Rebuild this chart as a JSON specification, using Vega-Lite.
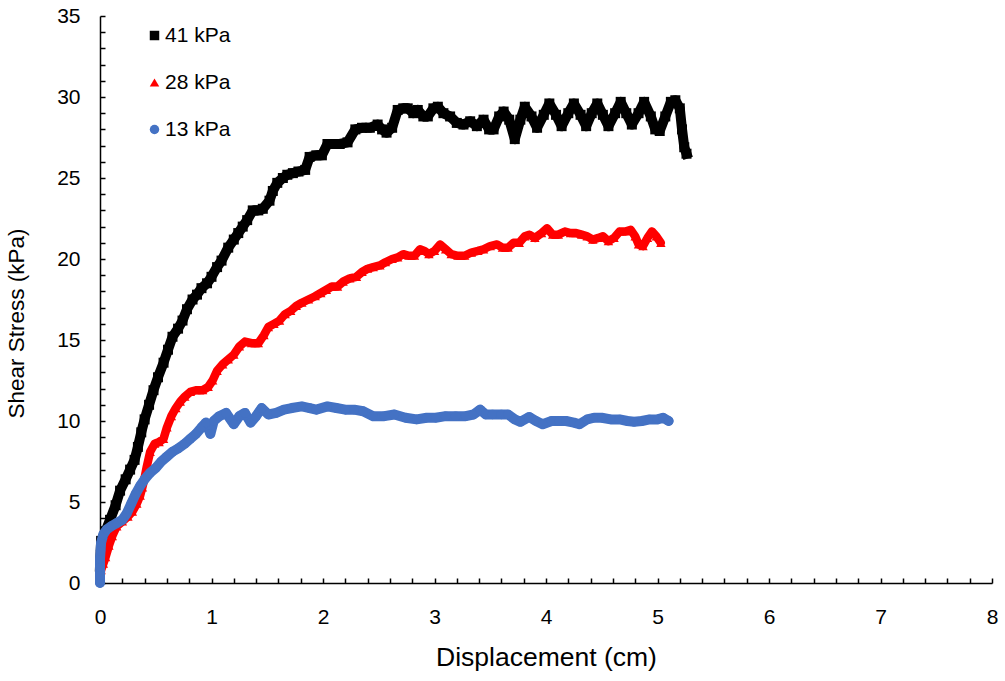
{
  "$schema": "https://vega.github.io/schema/vega-lite/v6.json",
  "width": 892,
  "height": 567,
  "autosize": {"type": "none"},
  "padding": {"left": 100, "top": 16, "right": 13, "bottom": 98},
  "background": "white",
  "config": {
    "view": {"stroke": null},
    "font": "Liberation Sans",
    "axis": {
      "grid": false,
      "domainColor": "#000000",
      "domainWidth": 1.5,
      "tickColor": "#000000",
      "tickWidth": 1.5,
      "tickSize": -5,
      "labelColor": "#000000",
      "titleColor": "#000000",
      "labelFont": "Liberation Sans",
      "titleFont": "Liberation Sans",
      "labelFontSize": 21,
      "titleFontWeight": "normal",
      "labelOverlap": false,
      "labelFlush": false
    },
    "legend": {
      "labelFont": "Liberation Sans",
      "labelFontSize": 21,
      "labelColor": "#000000"
    }
  },
  "data": {
    "values": [
      {"series":"41 kPa","displacement":0.00,"stress":1.0},
      {"series":"41 kPa","displacement":0.01,"stress":2.6},
      {"series":"41 kPa","displacement":0.05,"stress":3.2},
      {"series":"41 kPa","displacement":0.09,"stress":3.9},
      {"series":"41 kPa","displacement":0.14,"stress":4.8},
      {"series":"41 kPa","displacement":0.18,"stress":5.7},
      {"series":"41 kPa","displacement":0.23,"stress":6.4},
      {"series":"41 kPa","displacement":0.27,"stress":7.0},
      {"series":"41 kPa","displacement":0.31,"stress":7.6},
      {"series":"41 kPa","displacement":0.34,"stress":8.4},
      {"series":"41 kPa","displacement":0.37,"stress":9.3},
      {"series":"41 kPa","displacement":0.40,"stress":10.1},
      {"series":"41 kPa","displacement":0.44,"stress":11.0},
      {"series":"41 kPa","displacement":0.48,"stress":11.9},
      {"series":"41 kPa","displacement":0.52,"stress":12.7},
      {"series":"41 kPa","displacement":0.57,"stress":13.6},
      {"series":"41 kPa","displacement":0.61,"stress":14.4},
      {"series":"41 kPa","displacement":0.65,"stress":15.2},
      {"series":"41 kPa","displacement":0.70,"stress":15.7},
      {"series":"41 kPa","displacement":0.74,"stress":16.2},
      {"series":"41 kPa","displacement":0.78,"stress":16.9},
      {"series":"41 kPa","displacement":0.83,"stress":17.5},
      {"series":"41 kPa","displacement":0.87,"stress":17.8},
      {"series":"41 kPa","displacement":0.91,"stress":18.2},
      {"series":"41 kPa","displacement":0.96,"stress":18.5},
      {"series":"41 kPa","displacement":1.00,"stress":18.9},
      {"series":"41 kPa","displacement":1.05,"stress":19.5},
      {"series":"41 kPa","displacement":1.09,"stress":19.9},
      {"series":"41 kPa","displacement":1.15,"stress":20.7},
      {"series":"41 kPa","displacement":1.20,"stress":21.2},
      {"series":"41 kPa","displacement":1.24,"stress":21.6},
      {"series":"41 kPa","displacement":1.28,"stress":22.0},
      {"series":"41 kPa","displacement":1.32,"stress":22.4},
      {"series":"41 kPa","displacement":1.37,"stress":23.0},
      {"series":"41 kPa","displacement":1.42,"stress":23.0},
      {"series":"41 kPa","displacement":1.46,"stress":23.1},
      {"series":"41 kPa","displacement":1.52,"stress":23.6},
      {"series":"41 kPa","displacement":1.55,"stress":24.2},
      {"series":"41 kPa","displacement":1.59,"stress":24.7},
      {"series":"41 kPa","displacement":1.64,"stress":25.0},
      {"series":"41 kPa","displacement":1.68,"stress":25.2},
      {"series":"41 kPa","displacement":1.73,"stress":25.3},
      {"series":"41 kPa","displacement":1.78,"stress":25.4},
      {"series":"41 kPa","displacement":1.84,"stress":25.5},
      {"series":"41 kPa","displacement":1.88,"stress":26.3},
      {"series":"41 kPa","displacement":1.94,"stress":26.4},
      {"series":"41 kPa","displacement":1.99,"stress":26.4},
      {"series":"41 kPa","displacement":2.04,"stress":27.1},
      {"series":"41 kPa","displacement":2.10,"stress":27.1},
      {"series":"41 kPa","displacement":2.15,"stress":27.1},
      {"series":"41 kPa","displacement":2.22,"stress":27.2},
      {"series":"41 kPa","displacement":2.29,"stress":28.0},
      {"series":"41 kPa","displacement":2.35,"stress":28.1},
      {"series":"41 kPa","displacement":2.42,"stress":28.1},
      {"series":"41 kPa","displacement":2.49,"stress":28.3},
      {"series":"41 kPa","displacement":2.53,"stress":28.0},
      {"series":"41 kPa","displacement":2.57,"stress":27.8},
      {"series":"41 kPa","displacement":2.62,"stress":28.1},
      {"series":"41 kPa","displacement":2.67,"stress":29.2},
      {"series":"41 kPa","displacement":2.72,"stress":29.3},
      {"series":"41 kPa","displacement":2.76,"stress":29.3},
      {"series":"41 kPa","displacement":2.81,"stress":29.0},
      {"series":"41 kPa","displacement":2.85,"stress":29.2},
      {"series":"41 kPa","displacement":2.90,"stress":28.8},
      {"series":"41 kPa","displacement":2.94,"stress":28.8},
      {"series":"41 kPa","displacement":2.99,"stress":29.3},
      {"series":"41 kPa","displacement":3.03,"stress":29.4},
      {"series":"41 kPa","displacement":3.08,"stress":29.0},
      {"series":"41 kPa","displacement":3.14,"stress":28.8},
      {"series":"41 kPa","displacement":3.20,"stress":28.4},
      {"series":"41 kPa","displacement":3.26,"stress":28.3},
      {"series":"41 kPa","displacement":3.32,"stress":28.5},
      {"series":"41 kPa","displacement":3.38,"stress":28.2},
      {"series":"41 kPa","displacement":3.44,"stress":28.6},
      {"series":"41 kPa","displacement":3.49,"stress":28.0},
      {"series":"41 kPa","displacement":3.53,"stress":28.0},
      {"series":"41 kPa","displacement":3.58,"stress":28.8},
      {"series":"41 kPa","displacement":3.62,"stress":29.1},
      {"series":"41 kPa","displacement":3.67,"stress":28.6},
      {"series":"41 kPa","displacement":3.72,"stress":27.4},
      {"series":"41 kPa","displacement":3.77,"stress":28.6},
      {"series":"41 kPa","displacement":3.81,"stress":29.4},
      {"series":"41 kPa","displacement":3.87,"stress":28.8},
      {"series":"41 kPa","displacement":3.92,"stress":28.1},
      {"series":"41 kPa","displacement":3.98,"stress":28.9},
      {"series":"41 kPa","displacement":4.03,"stress":29.6},
      {"series":"41 kPa","displacement":4.09,"stress":28.9},
      {"series":"41 kPa","displacement":4.14,"stress":28.2},
      {"series":"41 kPa","displacement":4.20,"stress":29.0},
      {"series":"41 kPa","displacement":4.25,"stress":29.6},
      {"series":"41 kPa","displacement":4.31,"stress":28.9},
      {"series":"41 kPa","displacement":4.36,"stress":28.2},
      {"series":"41 kPa","displacement":4.41,"stress":29.0},
      {"series":"41 kPa","displacement":4.46,"stress":29.6},
      {"series":"41 kPa","displacement":4.51,"stress":28.9},
      {"series":"41 kPa","displacement":4.56,"stress":28.2},
      {"series":"41 kPa","displacement":4.62,"stress":29.0},
      {"series":"41 kPa","displacement":4.67,"stress":29.7},
      {"series":"41 kPa","displacement":4.72,"stress":29.0},
      {"series":"41 kPa","displacement":4.77,"stress":28.3},
      {"series":"41 kPa","displacement":4.83,"stress":29.0},
      {"series":"41 kPa","displacement":4.88,"stress":29.7},
      {"series":"41 kPa","displacement":4.94,"stress":28.8},
      {"series":"41 kPa","displacement":4.98,"stress":28.0},
      {"series":"41 kPa","displacement":5.02,"stress":27.9},
      {"series":"41 kPa","displacement":5.07,"stress":28.8},
      {"series":"41 kPa","displacement":5.12,"stress":29.7},
      {"series":"41 kPa","displacement":5.16,"stress":29.8},
      {"series":"41 kPa","displacement":5.20,"stress":29.3},
      {"series":"41 kPa","displacement":5.22,"stress":28.0},
      {"series":"41 kPa","displacement":5.24,"stress":26.9},
      {"series":"41 kPa","displacement":5.26,"stress":26.5},

      {"series":"28 kPa","displacement":0.00,"stress":0.2},
      {"series":"28 kPa","displacement":0.01,"stress":0.8},
      {"series":"28 kPa","displacement":0.03,"stress":1.2},
      {"series":"28 kPa","displacement":0.05,"stress":1.6},
      {"series":"28 kPa","displacement":0.08,"stress":2.3},
      {"series":"28 kPa","displacement":0.11,"stress":2.9},
      {"series":"28 kPa","displacement":0.15,"stress":3.5},
      {"series":"28 kPa","displacement":0.20,"stress":3.8},
      {"series":"28 kPa","displacement":0.25,"stress":4.1},
      {"series":"28 kPa","displacement":0.29,"stress":4.4},
      {"series":"28 kPa","displacement":0.33,"stress":4.9},
      {"series":"28 kPa","displacement":0.36,"stress":5.4},
      {"series":"28 kPa","displacement":0.38,"stress":5.9},
      {"series":"28 kPa","displacement":0.40,"stress":6.5},
      {"series":"28 kPa","displacement":0.42,"stress":7.2},
      {"series":"28 kPa","displacement":0.45,"stress":8.1},
      {"series":"28 kPa","displacement":0.49,"stress":8.6},
      {"series":"28 kPa","displacement":0.53,"stress":8.7},
      {"series":"28 kPa","displacement":0.57,"stress":8.9},
      {"series":"28 kPa","displacement":0.60,"stress":9.6},
      {"series":"28 kPa","displacement":0.64,"stress":10.3},
      {"series":"28 kPa","displacement":0.68,"stress":10.8},
      {"series":"28 kPa","displacement":0.72,"stress":11.2},
      {"series":"28 kPa","displacement":0.76,"stress":11.5},
      {"series":"28 kPa","displacement":0.81,"stress":11.8},
      {"series":"28 kPa","displacement":0.86,"stress":11.9},
      {"series":"28 kPa","displacement":0.92,"stress":11.9},
      {"series":"28 kPa","displacement":0.97,"stress":12.1},
      {"series":"28 kPa","displacement":1.01,"stress":12.5},
      {"series":"28 kPa","displacement":1.05,"stress":13.1},
      {"series":"28 kPa","displacement":1.10,"stress":13.5},
      {"series":"28 kPa","displacement":1.15,"stress":13.8},
      {"series":"28 kPa","displacement":1.20,"stress":14.1},
      {"series":"28 kPa","displacement":1.25,"stress":14.6},
      {"series":"28 kPa","displacement":1.30,"stress":14.9},
      {"series":"28 kPa","displacement":1.36,"stress":14.8},
      {"series":"28 kPa","displacement":1.42,"stress":14.8},
      {"series":"28 kPa","displacement":1.47,"stress":15.3},
      {"series":"28 kPa","displacement":1.51,"stress":15.8},
      {"series":"28 kPa","displacement":1.56,"stress":16.0},
      {"series":"28 kPa","displacement":1.61,"stress":16.2},
      {"series":"28 kPa","displacement":1.66,"stress":16.6},
      {"series":"28 kPa","displacement":1.71,"stress":16.8},
      {"series":"28 kPa","displacement":1.76,"stress":17.1},
      {"series":"28 kPa","displacement":1.81,"stress":17.3},
      {"series":"28 kPa","displacement":1.87,"stress":17.5},
      {"series":"28 kPa","displacement":1.93,"stress":17.7},
      {"series":"28 kPa","displacement":1.98,"stress":17.9},
      {"series":"28 kPa","displacement":2.03,"stress":18.1},
      {"series":"28 kPa","displacement":2.08,"stress":18.3},
      {"series":"28 kPa","displacement":2.13,"stress":18.3},
      {"series":"28 kPa","displacement":2.18,"stress":18.6},
      {"series":"28 kPa","displacement":2.24,"stress":18.8},
      {"series":"28 kPa","displacement":2.30,"stress":18.9},
      {"series":"28 kPa","displacement":2.35,"stress":19.2},
      {"series":"28 kPa","displacement":2.40,"stress":19.4},
      {"series":"28 kPa","displacement":2.45,"stress":19.5},
      {"series":"28 kPa","displacement":2.51,"stress":19.6},
      {"series":"28 kPa","displacement":2.56,"stress":19.8},
      {"series":"28 kPa","displacement":2.62,"stress":20.0},
      {"series":"28 kPa","displacement":2.67,"stress":20.1},
      {"series":"28 kPa","displacement":2.72,"stress":20.3},
      {"series":"28 kPa","displacement":2.77,"stress":20.2},
      {"series":"28 kPa","displacement":2.82,"stress":20.2},
      {"series":"28 kPa","displacement":2.87,"stress":20.6},
      {"series":"28 kPa","displacement":2.91,"stress":20.5},
      {"series":"28 kPa","displacement":2.95,"stress":20.3},
      {"series":"28 kPa","displacement":3.00,"stress":20.5},
      {"series":"28 kPa","displacement":3.05,"stress":20.9},
      {"series":"28 kPa","displacement":3.10,"stress":20.6},
      {"series":"28 kPa","displacement":3.15,"stress":20.3},
      {"series":"28 kPa","displacement":3.21,"stress":20.2},
      {"series":"28 kPa","displacement":3.27,"stress":20.2},
      {"series":"28 kPa","displacement":3.33,"stress":20.4},
      {"series":"28 kPa","displacement":3.39,"stress":20.5},
      {"series":"28 kPa","displacement":3.44,"stress":20.6},
      {"series":"28 kPa","displacement":3.50,"stress":20.8},
      {"series":"28 kPa","displacement":3.56,"stress":20.9},
      {"series":"28 kPa","displacement":3.61,"stress":20.7},
      {"series":"28 kPa","displacement":3.66,"stress":20.7},
      {"series":"28 kPa","displacement":3.71,"stress":21.0},
      {"series":"28 kPa","displacement":3.76,"stress":21.0},
      {"series":"28 kPa","displacement":3.81,"stress":21.4},
      {"series":"28 kPa","displacement":3.85,"stress":21.5},
      {"series":"28 kPa","displacement":3.90,"stress":21.3},
      {"series":"28 kPa","displacement":3.96,"stress":21.6},
      {"series":"28 kPa","displacement":4.01,"stress":21.9},
      {"series":"28 kPa","displacement":4.06,"stress":21.5},
      {"series":"28 kPa","displacement":4.11,"stress":21.5},
      {"series":"28 kPa","displacement":4.17,"stress":21.7},
      {"series":"28 kPa","displacement":4.22,"stress":21.6},
      {"series":"28 kPa","displacement":4.27,"stress":21.6},
      {"series":"28 kPa","displacement":4.32,"stress":21.5},
      {"series":"28 kPa","displacement":4.37,"stress":21.4},
      {"series":"28 kPa","displacement":4.42,"stress":21.2},
      {"series":"28 kPa","displacement":4.47,"stress":21.3},
      {"series":"28 kPa","displacement":4.51,"stress":21.4},
      {"series":"28 kPa","displacement":4.56,"stress":21.1},
      {"series":"28 kPa","displacement":4.61,"stress":21.3},
      {"series":"28 kPa","displacement":4.66,"stress":21.7},
      {"series":"28 kPa","displacement":4.71,"stress":21.7},
      {"series":"28 kPa","displacement":4.76,"stress":21.8},
      {"series":"28 kPa","displacement":4.80,"stress":21.4},
      {"series":"28 kPa","displacement":4.83,"stress":20.9},
      {"series":"28 kPa","displacement":4.87,"stress":20.8},
      {"series":"28 kPa","displacement":4.91,"stress":21.3},
      {"series":"28 kPa","displacement":4.95,"stress":21.7},
      {"series":"28 kPa","displacement":4.99,"stress":21.4},
      {"series":"28 kPa","displacement":5.03,"stress":21.0},

      {"series":"13 kPa","displacement":0.00,"stress":0.0},
      {"series":"13 kPa","displacement":0.00,"stress":0.5},
      {"series":"13 kPa","displacement":0.00,"stress":1.0},
      {"series":"13 kPa","displacement":0.00,"stress":1.5},
      {"series":"13 kPa","displacement":0.005,"stress":2.0},
      {"series":"13 kPa","displacement":0.01,"stress":2.5},
      {"series":"13 kPa","displacement":0.03,"stress":3.0},
      {"series":"13 kPa","displacement":0.06,"stress":3.3},
      {"series":"13 kPa","displacement":0.10,"stress":3.5},
      {"series":"13 kPa","displacement":0.15,"stress":3.7},
      {"series":"13 kPa","displacement":0.20,"stress":3.9},
      {"series":"13 kPa","displacement":0.24,"stress":4.3},
      {"series":"13 kPa","displacement":0.28,"stress":4.9},
      {"series":"13 kPa","displacement":0.32,"stress":5.5},
      {"series":"13 kPa","displacement":0.36,"stress":6.0},
      {"series":"13 kPa","displacement":0.40,"stress":6.4},
      {"series":"13 kPa","displacement":0.45,"stress":6.8},
      {"series":"13 kPa","displacement":0.50,"stress":7.1},
      {"series":"13 kPa","displacement":0.55,"stress":7.5},
      {"series":"13 kPa","displacement":0.60,"stress":7.8},
      {"series":"13 kPa","displacement":0.65,"stress":8.1},
      {"series":"13 kPa","displacement":0.70,"stress":8.3},
      {"series":"13 kPa","displacement":0.76,"stress":8.6},
      {"series":"13 kPa","displacement":0.81,"stress":8.9},
      {"series":"13 kPa","displacement":0.86,"stress":9.2},
      {"series":"13 kPa","displacement":0.91,"stress":9.6},
      {"series":"13 kPa","displacement":0.95,"stress":9.9},
      {"series":"13 kPa","displacement":0.99,"stress":9.2},
      {"series":"13 kPa","displacement":1.02,"stress":10.0},
      {"series":"13 kPa","displacement":1.07,"stress":10.3},
      {"series":"13 kPa","displacement":1.13,"stress":10.5},
      {"series":"13 kPa","displacement":1.20,"stress":9.8},
      {"series":"13 kPa","displacement":1.25,"stress":10.3},
      {"series":"13 kPa","displacement":1.30,"stress":10.5},
      {"series":"13 kPa","displacement":1.35,"stress":9.9},
      {"series":"13 kPa","displacement":1.40,"stress":10.3},
      {"series":"13 kPa","displacement":1.45,"stress":10.8},
      {"series":"13 kPa","displacement":1.51,"stress":10.4},
      {"series":"13 kPa","displacement":1.58,"stress":10.5},
      {"series":"13 kPa","displacement":1.65,"stress":10.7},
      {"series":"13 kPa","displacement":1.72,"stress":10.8},
      {"series":"13 kPa","displacement":1.81,"stress":10.9},
      {"series":"13 kPa","displacement":1.88,"stress":10.8},
      {"series":"13 kPa","displacement":1.94,"stress":10.7},
      {"series":"13 kPa","displacement":2.04,"stress":10.9},
      {"series":"13 kPa","displacement":2.12,"stress":10.8},
      {"series":"13 kPa","displacement":2.20,"stress":10.7},
      {"series":"13 kPa","displacement":2.28,"stress":10.7},
      {"series":"13 kPa","displacement":2.36,"stress":10.6},
      {"series":"13 kPa","displacement":2.45,"stress":10.3},
      {"series":"13 kPa","displacement":2.55,"stress":10.3},
      {"series":"13 kPa","displacement":2.64,"stress":10.4},
      {"series":"13 kPa","displacement":2.74,"stress":10.2},
      {"series":"13 kPa","displacement":2.84,"stress":10.1},
      {"series":"13 kPa","displacement":2.93,"stress":10.2},
      {"series":"13 kPa","displacement":3.01,"stress":10.2},
      {"series":"13 kPa","displacement":3.10,"stress":10.3},
      {"series":"13 kPa","displacement":3.19,"stress":10.3},
      {"series":"13 kPa","displacement":3.28,"stress":10.3},
      {"series":"13 kPa","displacement":3.35,"stress":10.4},
      {"series":"13 kPa","displacement":3.41,"stress":10.7},
      {"series":"13 kPa","displacement":3.46,"stress":10.4},
      {"series":"13 kPa","displacement":3.52,"stress":10.4},
      {"series":"13 kPa","displacement":3.60,"stress":10.4},
      {"series":"13 kPa","displacement":3.66,"stress":10.4},
      {"series":"13 kPa","displacement":3.72,"stress":10.1},
      {"series":"13 kPa","displacement":3.77,"stress":9.95},
      {"series":"13 kPa","displacement":3.85,"stress":10.25},
      {"series":"13 kPa","displacement":3.91,"stress":10.0},
      {"series":"13 kPa","displacement":3.97,"stress":9.8},
      {"series":"13 kPa","displacement":4.05,"stress":10.0},
      {"series":"13 kPa","displacement":4.12,"stress":10.0},
      {"series":"13 kPa","displacement":4.18,"stress":10.0},
      {"series":"13 kPa","displacement":4.25,"stress":9.9},
      {"series":"13 kPa","displacement":4.30,"stress":9.8},
      {"series":"13 kPa","displacement":4.37,"stress":10.1},
      {"series":"13 kPa","displacement":4.43,"stress":10.2},
      {"series":"13 kPa","displacement":4.50,"stress":10.2},
      {"series":"13 kPa","displacement":4.58,"stress":10.1},
      {"series":"13 kPa","displacement":4.66,"stress":10.1},
      {"series":"13 kPa","displacement":4.73,"stress":10.0},
      {"series":"13 kPa","displacement":4.79,"stress":9.95},
      {"series":"13 kPa","displacement":4.86,"stress":10.0},
      {"series":"13 kPa","displacement":4.93,"stress":10.1},
      {"series":"13 kPa","displacement":5.00,"stress":10.1},
      {"series":"13 kPa","displacement":5.05,"stress":10.2},
      {"series":"13 kPa","displacement":5.10,"stress":10.0}
    ]
  },
  "encoding": {
    "x": {
      "field": "displacement",
      "type": "quantitative",
      "scale": {"domain": [0, 8], "nice": false, "zero": false},
      "axis": {
        "title": "Displacement (cm)",
        "titleFontSize": 26.5,
        "titlePadding": 17,
        "values": [0,0.2,0.4,0.6,0.8,1,1.2,1.4,1.6,1.8,2,2.2,2.4,2.6,2.8,3,3.2,3.4,3.6,3.8,4,4.2,4.4,4.6,4.8,5,5.2,5.4,5.6,5.8,6,6.2,6.4,6.6,6.8,7,7.2,7.4,7.6,7.8,8],
        "labelExpr": "datum.value % 1 == 0 ? format(datum.value, 'd') : ''",
        "labelPadding": 28
      }
    },
    "y": {
      "field": "stress",
      "type": "quantitative",
      "scale": {"domain": [0, 35], "nice": false},
      "axis": {
        "title": "Shear Stress (kPa)",
        "titleFontSize": 22.5,
        "titlePadding": 28,
        "titleY": 307,
        "values": [0,1,2,3,4,5,6,7,8,9,10,11,12,13,14,15,16,17,18,19,20,21,22,23,24,25,26,27,28,29,30,31,32,33,34,35],
        "labelExpr": "datum.value % 5 == 0 ? format(datum.value, 'd') : ''",
        "labelPadding": 25
      }
    }
  },
  "layer": [
    {
      "transform": [{"filter": "datum.series == '41 kPa'"}],
      "mark": {"type": "line", "color": "#000000", "strokeWidth": 10, "strokeCap": "square", "strokeJoin": "round"},
      "encoding": {}
    },
    {
      "transform": [{"filter": "datum.series == '41 kPa'"}],
      "mark": {"type": "point", "filled": true, "opacity": 1, "size": 100, "strokeWidth": 0},
      "encoding": {
        "color": {"field": "series", "type": "nominal", "scale": {"domain": ["41 kPa", "28 kPa", "13 kPa"], "range": ["#000000", "#FF0000", "#4472C4"]}, "legend": {"orient": "none", "legendX": 44, "legendY": 9, "title": null, "rowPadding": 25, "symbolSize": 90, "labelOffset": 0, "symbolStrokeWidth": 0, "symbolOpacity": 1}},
        "shape": {"field": "series", "type": "nominal", "scale": {"domain": ["41 kPa", "28 kPa", "13 kPa"], "range": ["square", "triangle-up", "circle"]}}
      }
    },
    {
      "transform": [{"filter": "datum.series == '28 kPa'"}],
      "mark": {"type": "line", "color": "#FF0000", "strokeWidth": 8.5, "strokeCap": "round", "strokeJoin": "round"},
      "encoding": {}
    },
    {
      "transform": [{"filter": "datum.series == '28 kPa'"}],
      "mark": {"type": "point", "filled": true, "opacity": 1, "size": 90, "strokeWidth": 0},
      "encoding": {
        "color": {"field": "series", "type": "nominal"},
        "shape": {"field": "series", "type": "nominal"}
      }
    },
    {
      "transform": [{"filter": "datum.series == '13 kPa'"}],
      "mark": {"type": "line", "color": "#4472C4", "strokeWidth": 10, "strokeCap": "round", "strokeJoin": "round"},
      "encoding": {}
    },
    {
      "transform": [{"filter": "datum.series == '13 kPa'"}],
      "mark": {"type": "point", "filled": true, "opacity": 1, "size": 90, "strokeWidth": 0},
      "encoding": {
        "color": {"field": "series", "type": "nominal"},
        "shape": {"field": "series", "type": "nominal"}
      }
    }
  ]
}
